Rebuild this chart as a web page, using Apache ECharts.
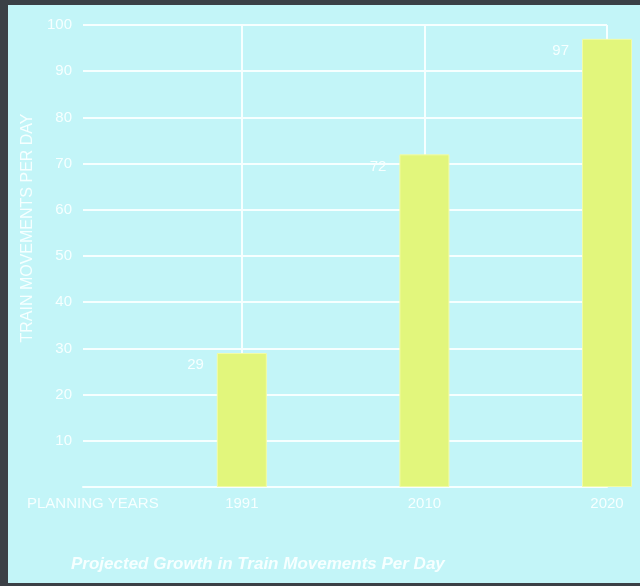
<!DOCTYPE html>
<html>
<head>
<meta charset="utf-8">
<script src="https://cdn.jsdelivr.net/npm/echarts@6/dist/echarts.min.js"></script>
<style>
html,body{margin:0;padding:0;background:#3b4046;}
#c{width:640px;height:586px;}
</style>
</head>
<body>
<div id="c"></div>
<script>
// ---- data ----
var categories = ['1991', '2010', '2020'];
var values = [29, 72, 97];
var yTicks = ['10', '20', '30', '40', '50', '60', '70', '80', '90', '100'];
var chartTitle = 'Projected Growth in Train Movements Per Day';
var yName = 'TRAIN MOVEMENTS PER DAY';
var xName = 'PLANNING YEARS';

var chart = echarts.init(document.getElementById('c'), null, {renderer: 'canvas'});
var white = '#f6ffff';
var FONT = 'Liberation Sans, Arial, sans-serif';
var seriesData = values.map(function (v, i) { return [i, v]; });

chart.setOption({
  backgroundColor: '#3b4046',
  animation: false,
  textStyle: {fontFamily: FONT},
  graphic: [
    {type: 'rect', left: 8, top: 5, shape: {width: 632, height: 578}, style: {fill: '#c3f5f8'}, z: -10},
    {type: 'text', left: 27, top: 496, style: {text: xName, fill: white, fontSize: 15, fontFamily: FONT}}
  ],
  title: {
    text: chartTitle,
    left: 66, top: 551,
    textStyle: {color: white, fontSize: 17, fontWeight: 'bold', fontStyle: 'italic', fontFamily: FONT}
  },
  grid: {left: 83, top: 25, right: 33, bottom: 99, containLabel: false},
  xAxis: {
    type: 'value', min: -0.87, max: 2,
    axisLine: {show: true, lineStyle: {color: white, width: 2}},
    axisTick: {show: false, customValues: [0, 1, 2]},
    axisLabel: {
      customValues: [0, 1, 2],
      color: white, fontSize: 15, margin: 9,
      formatter: function (v) { return categories[Math.round(v)] || ''; }
    },
    splitLine: {show: true, lineStyle: {color: white, width: 2}}
  },
  yAxis: {
    type: 'value', min: 0, max: 100, interval: 10,
    name: yName, nameLocation: 'middle', nameGap: 38,
    nameTextStyle: {color: white, fontSize: 16, padding: [0, 0, 0, 56]},
    axisLine: {show: true, lineStyle: {color: white, width: 2}},
    axisTick: {show: false},
    axisLabel: {
      color: white, fontSize: 15, margin: 11,
      formatter: function (v) { var s = String(v); return yTicks.indexOf(s) >= 0 ? s : ''; }
    },
    splitLine: {show: true, lineStyle: {color: white, width: 2}}
  },
  series: [{
    type: 'bar',
    data: seriesData,
    barWidth: 50,
    clip: false,
    itemStyle: {color: '#e2f67c', borderColor: '#f2fba8', borderWidth: 1},
    label: {
      show: true, position: [-13, 12], align: 'right', verticalAlign: 'middle',
      color: white, fontSize: 15
    }
  }]
});
</script>
</body>
</html>
